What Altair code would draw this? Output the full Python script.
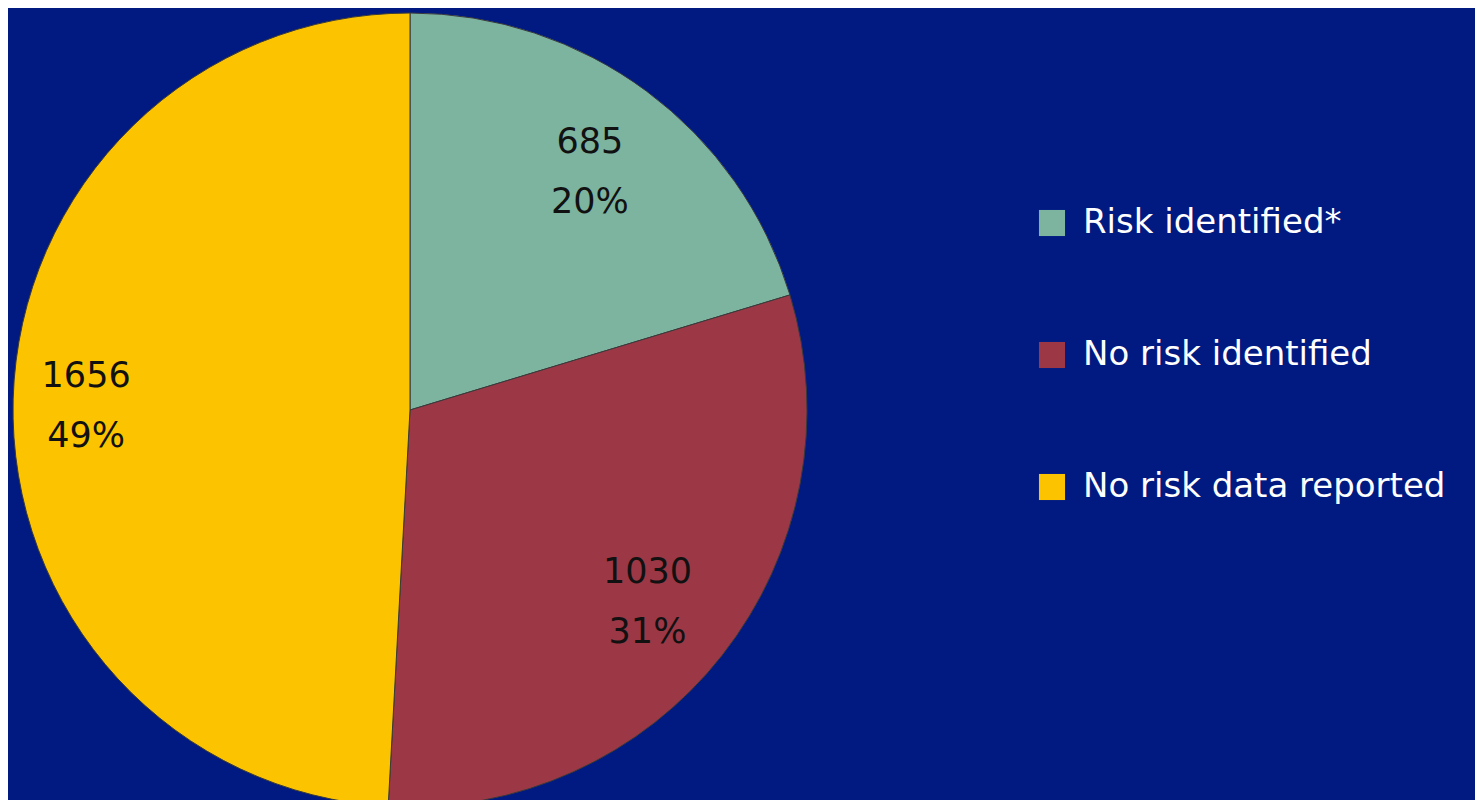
import altair as alt
import pandas as pd

categories = ["Risk identified*", "No risk identified", "No risk data reported"]
counts = [685, 1030, 1656]
percents = ["20%", "31%", "49%"]
colors = ["#7db4a0", "#9c3846", "#fcc400"]

df = pd.DataFrame({
    "category": categories,
    "count": counts,
    "pct": percents,
    "order": [0, 1, 2],
})
df["label"] = df["count"].astype(str) + "\n" + df["pct"]

CX, CY, R = 402, 402, 397

base = alt.Chart(df).encode(
    theta=alt.Theta("count:Q", stack=True),
    order=alt.Order("order:Q"),
)

pie = base.mark_arc(radius=R, stroke="#3a3a3a", strokeWidth=1).encode(
    x=alt.value(CX),
    y=alt.value(CY),
    color=alt.Color(
        "category:N",
        scale=alt.Scale(domain=categories, range=colors),
        sort=categories,
        legend=alt.Legend(
            title=None,
            orient="none",
            legendX=1027,
            legendY=198,
            symbolType="square",
            symbolSize=680,
            symbolStrokeWidth=0,
            labelFont="DejaVu Sans",
            labelFontSize=34,
            labelColor="white",
            labelOffset=14,
            rowPadding=98,
            labelLimit=600,
        ),
    ),
)

text_common = dict(font="DejaVu Sans", fontSize=35, color="#111111",
                   lineBreak="\n", lineHeight=60, align="center",
                   baseline="middle", dy=-25)

labels_a = base.mark_text(radius=302, **text_common).encode(
    x=alt.value(CX), y=alt.value(CY),
    text=alt.condition(alt.datum.order < 2, "label:N", alt.value("")),
)

labels_b = base.mark_text(radius=324, **text_common).encode(
    x=alt.value(CX), y=alt.value(CY),
    text=alt.condition(alt.datum.order == 2, "label:N", alt.value("")),
)

chart = alt.layer(pie, labels_a, labels_b).properties(
    width=1467,
    height=792,
    background="#001a82",
    padding=0,
    autosize=alt.AutoSizeParams(type="none"),
).configure_view(stroke=None)

chart.save("out.html", embed_options={"renderer": "svg", "actions": False})
